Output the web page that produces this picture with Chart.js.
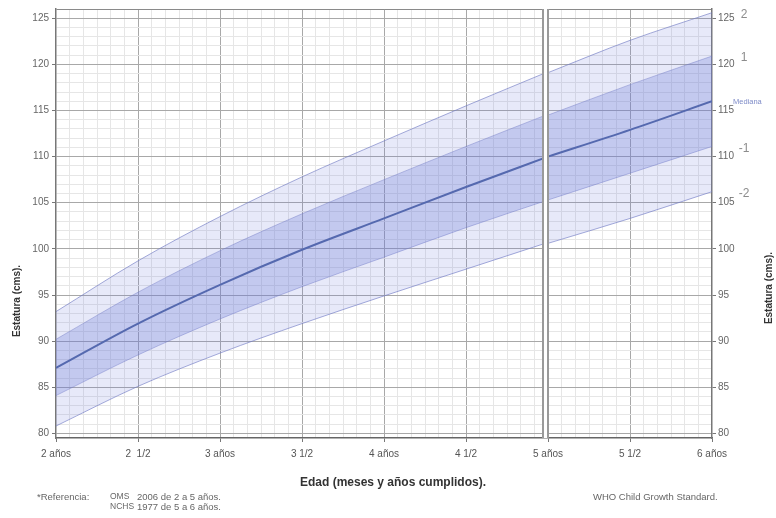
<!DOCTYPE html>
<html>
<head>
<meta charset="utf-8">
<script src="https://cdn.jsdelivr.net/npm/chart.js@4/dist/chart.umd.min.js"></script>
<style>
  html, body { margin: 0; padding: 0; background: #fff; }
  #wrap { width: 776px; height: 518px; }
</style>
</head>
<body>
<div id="wrap"><canvas id="chart" width="776" height="518"></canvas></div>
<script>
// OMS 2006, 2 a 5 años (edad en meses, estatura en cm)
const whoMonths = [24, 30, 36, 42, 48, 54, 60];
const whoMinus2 = [80.8, 85.1, 88.7, 91.9, 94.9, 97.8, 100.7];
const whoMinus1 = [84.1, 88.5, 92.4, 95.9, 99.1, 102.3, 105.3];
const whoMedian = [87.1, 91.9, 96.1, 99.9, 103.3, 106.7, 110.0];
const whoPlus1 = [90.2, 95.3, 99.8, 103.8, 107.5, 111.1, 114.6];
const whoPlus2 = [93.2, 98.7, 103.5, 107.8, 111.7, 115.5, 119.2];

// NCHS 1977, 5 a 6 años
const nchsMonths = [60, 66, 72];
const nchsMinus2 = [100.6, 103.3, 106.2];
const nchsMinus1 = [105.3, 108.2, 111.1];
const nchsMedian = [110.0, 112.9, 116.0];
const nchsPlus1 = [114.5, 117.8, 120.9];
const nchsPlus2 = [119.1, 122.6, 125.6];

const xTickMonths = [24, 30, 36, 42, 48, 54, 60, 66, 72];
const xTickLabels = ['2 años', '2  1/2', '3 años', '3 1/2', '4 años', '4 1/2', '5 años', '5 1/2', '6 años'];
const curveLabels = ['2', '1', 'Mediana', '-1', '-2'];

const FONT = '"Liberation Sans", Arial, sans-serif';
const outerFill = 'rgba(110, 125, 220, 0.17)';
const innerFill = 'rgba(105, 120, 215, 0.28)';
const edgeColor = 'rgba(115, 125, 195, 0.65)';
const medianColor = 'rgb(85, 105, 175)';

function pts(xs, ys) {
  return xs.map((x, i) => ({ x: x, y: ys[i] }));
}

// order matters: first dataset is drawn on top
function section(xs, m2, m1, med, p1, p2) {
  const base = { pointRadius: 0, cubicInterpolationMode: 'monotone', borderWidth: 1 };
  return [
    Object.assign({}, base, { label: 'Mediana', data: pts(xs, med), borderColor: medianColor, borderWidth: 2, fill: false }),
    Object.assign({}, base, { label: '1', data: pts(xs, p1), borderColor: 'rgba(115,125,195,0.45)', backgroundColor: innerFill, fill: '+1' }),
    Object.assign({}, base, { label: '-1', data: pts(xs, m1), borderColor: 'rgba(115,125,195,0.45)', fill: false }),
    Object.assign({}, base, { label: '2', data: pts(xs, p2), borderColor: edgeColor, backgroundColor: outerFill, fill: '+1' }),
    Object.assign({}, base, { label: '-2', data: pts(xs, m2), borderColor: edgeColor, fill: false })
  ];
}

const datasets = section(whoMonths, whoMinus2, whoMinus1, whoMedian, whoPlus1, whoPlus2)
  .concat(section(nchsMonths, nchsMinus2, nchsMinus1, nchsMedian, nchsPlus1, nchsPlus2));

function yGrid(ctx) {
  const v = ctx.tick.value;
  if (v === 126) return '#8a8a8a';
  if (v % 5 === 0) return '#a8a8a8';
  return '#e6e6e6';
}

function yTickColor(ctx) {
  return ctx.tick.value % 5 === 0 ? '#777' : 'rgba(0,0,0,0)';
}

// one grid line per cm, labels every 5
function cmTicks(s) {
  const t = [];
  for (let v = 80; v <= 126; v++) t.push({ value: v });
  s.ticks = t;
}

const yTicks = {
  autoSkip: false,
  color: '#666',
  font: { family: FONT, size: 10 },
  callback: v => (v % 5 === 0 && v <= 125 ? String(v) : '')
};

// separator at 5 años, extra texts
const overlay = {
  id: 'overlay',
  afterDatasetsDraw(chart) {
    const { ctx, chartArea, scales } = chart;
    const x5 = scales.x.getPixelForValue(60);
    ctx.save();
    ctx.fillStyle = '#fff';
    ctx.fillRect(x5 - 5, chartArea.top, 5, chartArea.bottom - chartArea.top);
    ctx.strokeStyle = '#9a9a9a';
    ctx.lineWidth = 2;
    [x5 - 5, x5].forEach(x => {
      ctx.beginPath();
      ctx.moveTo(x, chartArea.top);
      ctx.lineTo(x, chartArea.bottom);
      ctx.stroke();
    });
    ctx.restore();
  },
  afterDraw(chart) {
    const { ctx, scales } = chart;
    ctx.save();
    ctx.textBaseline = 'middle';

    // curve names at the right end
    const ends = [nchsPlus2, nchsPlus1, nchsMedian, nchsMinus1, nchsMinus2];
    curveLabels.forEach((t, i) => {
      const y = scales.y.getPixelForValue(ends[i][ends[i].length - 1]) + 2;
      if (t === 'Mediana') {
        ctx.fillStyle = '#7f8cc8';
        ctx.font = '7.5px ' + FONT;
        ctx.textAlign = 'left';
        ctx.fillText(t, 733, y - 1);
      } else {
        ctx.fillStyle = '#8c8c8c';
        ctx.font = '12px ' + FONT;
        ctx.textAlign = 'center';
        ctx.fillText(t, 744, y);
      }
    });

    // axis titles
    ctx.fillStyle = '#333';
    ctx.font = 'bold 10px ' + FONT;
    ctx.textAlign = 'center';
    [[17, 301], [769, 288]].forEach(p => {
      ctx.save();
      ctx.translate(p[0], p[1]);
      ctx.rotate(-Math.PI / 2);
      ctx.fillText('Estatura (cms).', 0, 0);
      ctx.restore();
    });
    ctx.font = 'bold 12px ' + FONT;
    ctx.fillText('Edad (meses y años cumplidos).', 393, 483);

    // references
    ctx.fillStyle = '#666';
    ctx.textAlign = 'left';
    ctx.font = '9.5px ' + FONT;
    ctx.fillText('*Referencia:', 37, 497);
    ctx.fillText('2006 de 2 a 5 años.', 137, 497);
    ctx.fillText('1977 de 5 a 6 años.', 137, 507);
    ctx.fillText('WHO Child Growth Standard.', 593, 497);
    ctx.font = '8.5px ' + FONT;
    ctx.fillText('OMS', 110, 497);
    ctx.fillText('NCHS', 110, 507);
    ctx.restore();
  }
};

new Chart(document.getElementById('chart'), {
  type: 'line',
  data: { datasets: datasets },
  plugins: [overlay],
  options: {
    responsive: false,
    animation: false,
    layout: { padding: { top: 8, left: 0, right: 0, bottom: 0 } },
    plugins: {
      legend: { display: false },
      tooltip: { enabled: false },
      title: { display: false }
    },
    scales: {
      x: {
        type: 'linear',
        min: 24,
        max: 72,
        border: { display: true, color: '#666', width: 1.5 },
        grid: {
          color: ctx => {
            const v = ctx.tick.value;
            if (v === 60 || v === 24 || v === 72) return 'rgba(0,0,0,0)';
            return v % 6 === 0 ? '#a8a8a8' : '#e6e6e6';
          },
          tickColor: ctx => (ctx.tick.value % 6 === 0 ? '#777' : 'rgba(0,0,0,0)'),
          tickLength: 4
        },
        ticks: {
          stepSize: 1,
          autoSkip: false,
          maxRotation: 0,
          padding: 6,
          color: '#555',
          font: { family: FONT, size: 10 },
          callback: v => {
            const i = xTickMonths.indexOf(v);
            return i >= 0 ? xTickLabels[i] : '';
          }
        },
        afterFit: s => { s.height = 80; }
      },
      y: {
        type: 'linear',
        position: 'left',
        min: 79.5,
        max: 126,
        border: { display: true, color: '#777', width: 1.5 },
        grid: { color: yGrid, tickColor: yTickColor, tickLength: 4 },
        ticks: Object.assign({ padding: 3 }, yTicks),
        afterBuildTicks: cmTicks,
        afterFit: s => { s.width = 56; }
      },
      y2: {
        type: 'linear',
        position: 'right',
        min: 79.5,
        max: 126,
        border: { display: true, color: '#777', width: 1.5 },
        grid: { drawOnChartArea: false, tickColor: yTickColor, tickLength: 4 },
        ticks: Object.assign({ padding: 2 }, yTicks),
        afterBuildTicks: cmTicks,
        afterFit: s => { s.width = 64; }
      }
    }
  }
});
</script>
</body>
</html>
